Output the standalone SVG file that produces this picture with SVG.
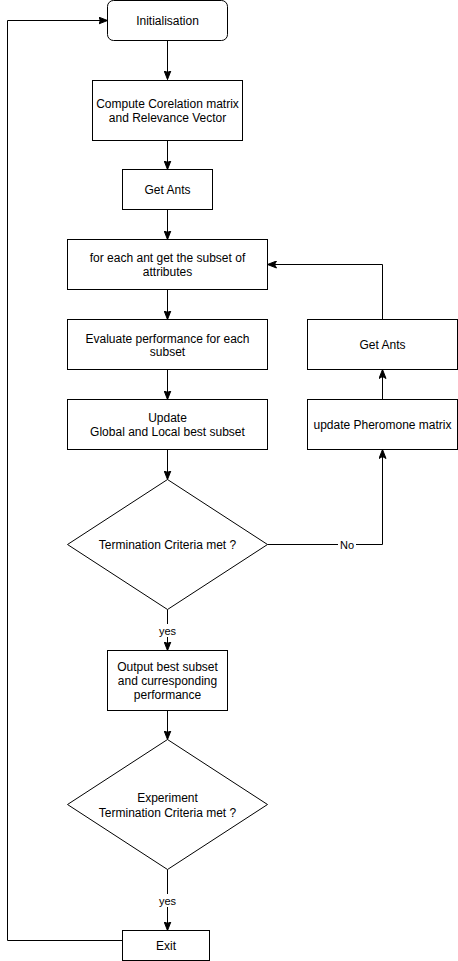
<svg xmlns="http://www.w3.org/2000/svg" width="458" height="961" viewBox="0 0 458 961">
<defs>
<marker id="arr" viewBox="0 -4 10 8" refX="9" refY="0" markerWidth="10" markerHeight="8" markerUnits="userSpaceOnUse" orient="auto">
<path d="M0,-3.5 L9,0 L0,3.5 L2,0 Z" fill="#000" stroke="#000" stroke-width="1"/>
</marker>
</defs>
<style>
.n{fill:#fff;stroke:#000;stroke-width:1}
.t{font-family:"Liberation Sans",Arial,sans-serif;font-size:12px;fill:#000;text-anchor:middle}
.l{font-family:"Liberation Sans",Arial,sans-serif;font-size:11px;fill:#000;text-anchor:middle}
.c{fill:none;stroke:#000;stroke-width:1}
</style>
<rect width="458" height="961" fill="#fff"/>
<g id="connectors">
<path class="c" d="M167.5,40.5 V79.5" marker-end="url(#arr)"/>
<path class="c" d="M167.5,140.5 V169.5" marker-end="url(#arr)"/>
<path class="c" d="M167.5,209.5 V239.5" marker-end="url(#arr)"/>
<path class="c" d="M167.5,289.5 V319.5" marker-end="url(#arr)"/>
<path class="c" d="M167.5,369.5 V399.5" marker-end="url(#arr)"/>
<path class="c" d="M167.5,449.5 V479.5" marker-end="url(#arr)"/>
<path class="c" d="M267.5,544.5 H382.5 V449.5" marker-end="url(#arr)"/>
<path class="c" d="M382.5,399.5 V369.5" marker-end="url(#arr)"/>
<path class="c" d="M382.5,319.5 V264.5 H267.5" marker-end="url(#arr)"/>
<path class="c" d="M167.5,609.5 V650.5" marker-end="url(#arr)"/>
<path class="c" d="M167.5,710.5 V739.5" marker-end="url(#arr)"/>
<path class="c" d="M167.5,869.5 V930.5" marker-end="url(#arr)"/>
<path class="c" d="M122.5,940.5 H7.5 V20.5 H107.5" marker-end="url(#arr)"/>
<rect x="338" y="538" width="18" height="13" fill="#fff"/>
<text class="l" x="347" y="548.5">No</text>
<rect x="157" y="624" width="21" height="13" fill="#fff"/>
<text class="l" x="167.5" y="634.5">yes</text>
<rect x="157" y="894" width="21" height="13" fill="#fff"/>
<text class="l" x="167.5" y="905">yes</text>
</g>
<g id="init"><rect class="n" x="107.5" y="0.5" width="120" height="40" rx="6" ry="6"/><text class="t" x="167.5" y="24.5">Initialisation</text></g>
<g id="compute"><rect class="n" x="92.5" y="80.5" width="150" height="60"/><text class="t" x="167.5" y="108">Compute Corelation matrix</text><text class="t" x="167.5" y="122">and Relevance Vector</text></g>
<g id="getants1"><rect class="n" x="122.5" y="169.5" width="90" height="40"/><text class="t" x="167.5" y="194">Get Ants</text></g>
<g id="foreach"><rect class="n" x="67.5" y="239.5" width="200" height="50"/><text class="t" x="167.5" y="261.5">for each ant get the subset of</text><text class="t" x="167.5" y="276">attributes</text></g>
<g id="evaluate"><rect class="n" x="67.5" y="319.5" width="200" height="50"/><text class="t" x="167.5" y="342.5">Evaluate performance for each</text><text class="t" x="167.5" y="356">subset</text></g>
<g id="update"><rect class="n" x="67.5" y="399.5" width="200" height="50"/><text class="t" x="167.5" y="422">Update</text><text class="t" x="167.5" y="436">Global and Local best subset</text></g>
<g id="getants2"><rect class="n" x="307.5" y="319.5" width="150" height="50"/><text class="t" x="382.5" y="349">Get Ants</text></g>
<g id="pheromone"><rect class="n" x="307.5" y="399.5" width="150" height="50"/><text class="t" x="382.5" y="429">update Pheromone matrix</text></g>
<g id="term"><path class="n" d="M167.5,479.5 L267.5,544.5 L167.5,609.5 L67.5,544.5 Z"/><text class="t" x="167.5" y="549">Termination Criteria met ?</text></g>
<g id="output"><rect class="n" x="107.5" y="650.5" width="120" height="60"/><text class="t" x="167.5" y="671">Output best subset</text><text class="t" x="167.5" y="685">and curresponding</text><text class="t" x="167.5" y="699">performance</text></g>
<g id="expterm"><path class="n" d="M167.5,739.5 L267.5,804.5 L167.5,869.5 L67.5,804.5 Z"/><text class="t" x="167.5" y="802">Experiment</text><text class="t" x="167.5" y="816.5">Termination Criteria met ?</text></g>
<g id="exit"><rect class="n" x="122.5" y="930.5" width="87" height="30"/><text class="t" x="166" y="950">Exit</text></g>
</svg>
